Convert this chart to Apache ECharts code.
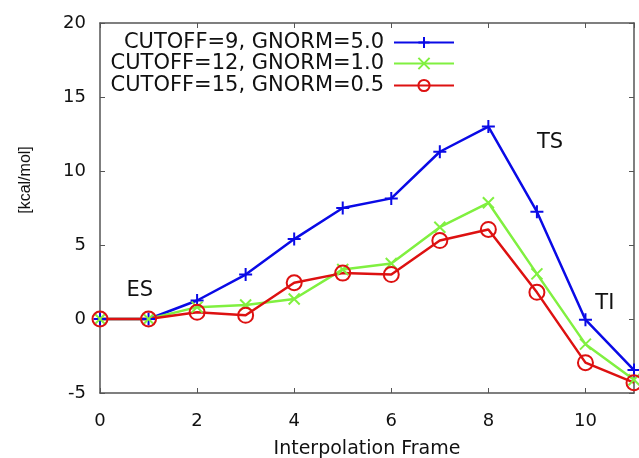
<!DOCTYPE html>
<html lang="en">
<head>
    <meta charset="UTF-8">
    <title>Interpolation Frame</title>
    <script src="https://cdn.jsdelivr.net/npm/echarts@6/dist/echarts.min.js"></script>
    <style>
        html, body { margin: 0; padding: 0; background: #fff; }
        #chart { width: 639px; height: 458px; }
    </style>
</head>
<body>
<div id="chart"></div>
<script>
    // frames 0..11
    const frames = [0, 1, 2, 3, 4, 5, 6, 7, 8, 9, 10, 11];
    const names = ['CUTOFF=9, GNORM=5.0', 'CUTOFF=12, GNORM=1.0', 'CUTOFF=15, GNORM=0.5'];
    const cutoff9 = [0, 0, 1.25, 3.0, 5.4, 7.5, 8.15, 11.3, 13.0, 7.25, -0.05, -3.45];
    const cutoff12 = [0, 0, 0.8, 0.95, 1.35, 3.35, 3.75, 6.2, 7.85, 3.05, -1.7, -4.1];
    const cutoff15 = [0, 0, 0.45, 0.25, 2.45, 3.1, 3.0, 5.3, 6.05, 1.8, -2.95, -4.3];
    const notes = [
        { text: 'ES', coord: [0.82, 1.95] },
        { text: 'TS', coord: [9.27, 11.95] },
        { text: 'TI', coord: [10.4, 1.05] }
    ];

    const font = 'DejaVu Sans, sans-serif';
    const frameColor = '#555';
    const plusPath = 'path://M0,5 L10,5 M5,0 L5,10';
    const crossPath = 'path://M0,0 L10,10 M10,0 L0,10';
    const ringPath = 'path://M10,0 A10,10 0 1,1 10,20 A10,10 0 1,1 10,0 Z';

    function pairs(ys) {
        return frames.map((x, i) => [x, ys[i]]);
    }

    function makeSeries(name, ys, color, symbol, size, extra) {
        return Object.assign({
            name: name,
            type: 'line',
            data: pairs(ys),
            symbol: symbol,
            symbolSize: size,
            showAllSymbol: true,
            lineStyle: { color: color, width: 2.5 },
            itemStyle: { color: color, borderColor: color, borderWidth: 2 },
            emphasis: { disabled: true },
            animation: false
        }, extra || {});
    }

    const legendRows = [41, 62, 84];
    const legends = names.map((n, i) => ({
        data: [n],
        right: 184,
        top: legendRows[i] - 9,
        align: 'right',
        orient: 'vertical',
        padding: 0,
        itemWidth: 60,
        itemHeight: 14,
        textStyle: { fontFamily: font, fontSize: 21, color: '#111', padding: [0, 5, 0, 0] }
    }));

    const series = [
        makeSeries(names[0], cutoff9, '#0a0ae6', plusPath, 13),
        makeSeries(names[1], cutoff12, '#80f040', crossPath, 11),
        makeSeries(names[2], cutoff15, '#dd1111', ringPath, 15, {
            itemStyle: { color: 'rgba(0,0,0,0)', borderColor: '#dd1111', borderWidth: 2 }
        })
    ];
    series[2].markPoint = {
        symbol: 'circle',
        symbolSize: 0,
        silent: true,
        label: {
            show: true,
            position: 'inside',
            formatter: p => p.name,
            fontFamily: font,
            fontSize: 21,
            color: '#111'
        },
        data: notes.map(n => ({ name: n.text, coord: n.coord }))
    };

    const axisLine = { show: true, onZero: false, lineStyle: { color: frameColor, width: 1.5 } };
    const axisTick = { show: true, inside: true, length: 5, lineStyle: { color: frameColor } };

    const chart = echarts.init(document.getElementById('chart'));
    chart.setOption({
        backgroundColor: '#fff',
        animation: false,
        legend: legends,
        grid: { left: 100, right: 5, top: 23, bottom: 65, outerBoundsMode: 'none', containLabel: false },
        xAxis: [
            {
                type: 'value', min: 0, max: 11, interval: 2,
                name: 'Interpolation Frame', nameLocation: 'middle', nameGap: 47,
                nameTextStyle: { fontFamily: font, fontSize: 19, color: '#111' },
                axisLine: axisLine,
                axisTick: axisTick,
                axisLabel: { fontFamily: font, fontSize: 18, color: '#111', margin: 19, showMaxLabel: false },
                splitLine: { show: false }
            },
            {
                type: 'value', min: 0, max: 11, interval: 2, position: 'top',
                axisLine: axisLine,
                axisTick: axisTick,
                axisLabel: { show: false },
                splitLine: { show: false }
            }
        ],
        yAxis: [
            {
                type: 'value', min: -5, max: 20, interval: 5,
                name: '[kcal/mol]', nameLocation: 'middle', nameGap: 66,
                nameTextStyle: { fontFamily: 'Liberation Sans, Arial, sans-serif', fontSize: 16, color: '#111', padding: [0, 0, 0, 56] },
                axisLine: axisLine,
                axisTick: axisTick,
                axisLabel: { fontFamily: font, fontSize: 18, color: '#111', margin: 14 },
                splitLine: { show: false }
            },
            {
                type: 'value', min: -5, max: 20, interval: 5, position: 'right',
                axisLine: axisLine,
                axisTick: axisTick,
                axisLabel: { show: false },
                splitLine: { show: false }
            }
        ],
        series: series
    });
</script>
</body>
</html>
